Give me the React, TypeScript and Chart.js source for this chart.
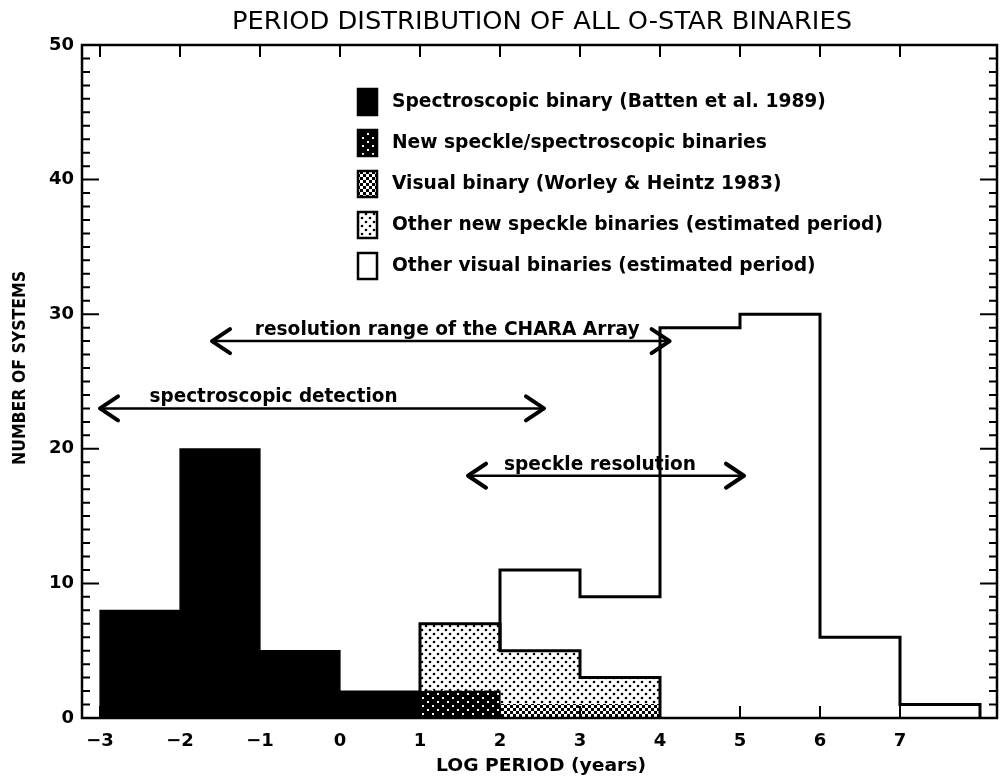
import React, { useEffect, useRef } from 'react';
import { Chart, registerables } from 'chart.js';

Chart.register(...registerables);

// ---- data ----
const binStarts = [-3, -2, -1, 0, 1, 2, 3, 4, 5, 6, 7];
const spectroscopic = [8, 20, 5, 2, 0, 0, 0, 0, 0, 0, 0];
const newSpeckleSpectro = [0, 0, 0, 0, 2, 0, 0, 0, 0, 0, 0];
const visualBinary = [0, 0, 0, 0, 0, 1, 1, 0, 0, 0, 0];
const otherNewSpeckle = [0, 0, 0, 0, 5, 4, 2, 0, 0, 0, 0];
const otherVisual = [0, 0, 0, 0, 0, 6, 6, 29, 30, 6, 1];

const seriesLabels = [
  'Spectroscopic binary (Batten et al. 1989)',
  'New speckle/spectroscopic binaries',
  'Visual binary (Worley & Heintz 1983)',
  'Other new speckle binaries (estimated period)',
  'Other visual binaries (estimated period)',
];

const xTicks = [-3, -2, -1, 0, 1, 2, 3, 4, 5, 6, 7];
const yTicks = [0, 10, 20, 30, 40, 50];

const chartTitle = 'PERIOD DISTRIBUTION OF ALL O-STAR BINARIES';
const xTitle = 'LOG PERIOD (years)';
const yTitle = 'NUMBER OF SYSTEMS';

const arrowLabels = ['resolution range of the CHARA Array', 'spectroscopic detection', 'speckle resolution'];
const arrowFrom = [-1.6, -3.0, 1.6];
const arrowTo = [4.12, 2.55, 5.05];
const arrowY = [28, 23, 18];
const arrowTextX = [1.34, -0.83, 3.25];

// ---- helpers ----
const FONT = '"DejaVu Sans", "Liberation Sans", sans-serif';
const binWidth = 1;

function makePattern(kind: string): CanvasPattern | string {
  const c = document.createElement('canvas');
  const g = c.getContext('2d');
  if (!g) return '#000';
  if (kind === 'sparse') {
    c.width = 10; c.height = 8;
    g.fillStyle = '#000'; g.fillRect(0, 0, 10, 8);
    g.fillStyle = '#fff';
    g.fillRect(2, 1, 2, 2);
    g.fillRect(7, 5, 2, 2);
  } else if (kind === 'checker') {
    c.width = 6; c.height = 6;
    g.fillStyle = '#000'; g.fillRect(0, 0, 6, 6);
    g.fillStyle = '#fff';
    g.fillRect(0, 0, 3, 3);
    g.fillRect(3, 3, 3, 3);
  } else if (kind === 'dots') {
    c.width = 8; c.height = 8;
    g.fillStyle = '#fff'; g.fillRect(0, 0, 8, 8);
    g.fillStyle = '#000';
    g.beginPath(); g.arc(2, 2, 1.3, 0, Math.PI * 2); g.fill();
    g.beginPath(); g.arc(6, 6, 1.3, 0, Math.PI * 2); g.fill();
  } else {
    return kind;
  }
  const p = g.createPattern(c, 'repeat');
  return p || '#000';
}

// stacked floating bars for series index k
function floatingBars(all: number[][], k: number) {
  const out: { x: number; y: [number, number] }[] = [];
  for (let i = 0; i < binStarts.length; i++) {
    const v = all[k][i];
    if (!v) continue;
    let base = 0;
    for (let j = 0; j < k; j++) base += all[j][i];
    out.push({ x: binStarts[i] + binWidth / 2, y: [base, base + v] });
  }
  return out;
}

// step outline of series k (top of cumulative stack)
function stepOutline(all: number[][], k: number) {
  const pts: { x: number; y: number }[] = [];
  const idx = binStarts.map((_, i) => i).filter((i) => all[k][i] > 0);
  if (!idx.length) return pts;
  const cum = (i: number, upto: number) => {
    let s = 0;
    for (let j = 0; j <= upto; j++) s += all[j][i];
    return s;
  };
  const first = idx[0];
  pts.push({ x: binStarts[first], y: cum(first, k - 1) });
  for (const i of idx) {
    const top = cum(i, k);
    pts.push({ x: binStarts[i], y: top });
    pts.push({ x: binStarts[i] + binWidth, y: top });
  }
  const last = idx[idx.length - 1];
  pts.push({ x: binStarts[last] + binWidth, y: 0 });
  return pts;
}

function fitText(ctx: CanvasRenderingContext2D, text: string, x: number, y: number, sx: number) {
  ctx.save();
  ctx.translate(x, y);
  ctx.scale(sx, 1);
  ctx.fillText(text, 0, 0);
  ctx.restore();
}

const fmt = (v: number) => (v < 0 ? '\u2212' + Math.abs(v) : String(v));

export default function App() {
  const ref = useRef<HTMLCanvasElement | null>(null);

  useEffect(() => {
    const canvas = ref.current;
    if (!canvas) return;
    const all = [spectroscopic, newSpeckleSpectro, visualBinary, otherNewSpeckle, otherVisual];
    const fills = [
      '#000000',
      makePattern('sparse'),
      makePattern('checker'),
      makePattern('dots'),
      '#ffffff',
    ];

    const barSets = all.map((_, k) => ({
      type: 'bar' as const,
      label: seriesLabels[k],
      data: floatingBars(all, k),
      backgroundColor: fills[k],
      borderWidth: 0,
      grouped: false,
      barPercentage: 1,
      categoryPercentage: 1,
      inflateAmount: 0.6,
      order: 2,
    }));

    const outlineSets = [3, 4].map((k) => ({
      type: 'line' as const,
      label: seriesLabels[k] + ' outline',
      data: stepOutline(all, k),
      borderColor: '#000',
      borderWidth: 3,
      pointRadius: 0,
      fill: false,
      tension: 0,
      borderJoinStyle: 'miter' as const,
      order: 0,
    }));

    const decor = {
      id: 'decor',
      afterDraw(chart: any) {
        const ctx: CanvasRenderingContext2D = chart.ctx;
        const { left, right, top, bottom } = chart.chartArea;
        const xs = chart.scales.x;
        const ys = chart.scales.y;
        ctx.save();
        ctx.strokeStyle = '#000';
        ctx.fillStyle = '#000';

        // frame
        ctx.lineWidth = 2.5;
        ctx.strokeRect(left, top, right - left, bottom - top);

        // x ticks (inward, bottom and top)
        ctx.lineWidth = 2;
        for (const v of xTicks) {
          const px = xs.getPixelForValue(v);
          ctx.beginPath();
          ctx.moveTo(px, bottom); ctx.lineTo(px, bottom - 12);
          ctx.moveTo(px, top); ctx.lineTo(px, top + 12);
          ctx.stroke();
        }
        // y ticks (major + minor), left and right
        for (let v = yTicks[0]; v <= yTicks[yTicks.length - 1]; v += 1) {
          const py = ys.getPixelForValue(v);
          const major = yTicks.includes(v);
          const len = major ? 17 : 8;
          ctx.beginPath();
          ctx.moveTo(left, py); ctx.lineTo(left + len, py);
          ctx.moveTo(right, py); ctx.lineTo(right - len, py);
          ctx.stroke();
        }

        // title
        ctx.textAlign = 'center';
        ctx.textBaseline = 'middle';
        ctx.font = `24px ${FONT}`;
        let w = ctx.measureText(chartTitle).width;
        fitText(ctx, chartTitle, 542, 23, 620 / w);

        // axis titles
        ctx.font = `bold 17px ${FONT}`;
        w = ctx.measureText(xTitle).width;
        fitText(ctx, xTitle, 541, 767, 210 / w);
        ctx.save();
        ctx.translate(21, 368);
        ctx.rotate(-Math.PI / 2);
        ctx.font = `bold 17px ${FONT}`;
        w = ctx.measureText(yTitle).width;
        fitText(ctx, yTitle, 0, 0, 194 / w);
        ctx.restore();

        // legend
        ctx.font = `bold 20px ${FONT}`;
        const refW = ctx.measureText(seriesLabels[3]).width;
        const lsx = 491 / refW;
        const rowsY = [102, 143, 184, 225, 266];
        seriesLabels.forEach((lab, k) => {
          const cy = rowsY[k];
          ctx.fillStyle = fills[k] as any;
          ctx.fillRect(358, cy - 13, 19, 26);
          ctx.lineWidth = 2.5;
          ctx.strokeStyle = '#000';
          ctx.strokeRect(358, cy - 13, 19, 26);
          ctx.fillStyle = '#000';
          ctx.textAlign = 'left';
          ctx.textBaseline = 'middle';
          fitText(ctx, lab, 392, cy, lsx);
        });

        // arrows with labels
        const arrowTextW = [385, 248, 192];
        arrowLabels.forEach((lab, i) => {
          const x1 = xs.getPixelForValue(arrowFrom[i]);
          const x2 = xs.getPixelForValue(arrowTo[i]);
          const py = ys.getPixelForValue(arrowY[i]);
          ctx.lineWidth = 2.5;
          ctx.lineCap = 'round';
          ctx.lineJoin = 'round';
          ctx.beginPath();
          ctx.moveTo(x1, py); ctx.lineTo(x2, py);
          ctx.stroke();
          ctx.lineWidth = 4;
          ctx.beginPath();
          ctx.moveTo(x1 + 18, py - 12); ctx.lineTo(x1, py); ctx.lineTo(x1 + 18, py + 12);
          ctx.moveTo(x2 - 18, py - 12); ctx.lineTo(x2, py); ctx.lineTo(x2 - 18, py + 12);
          ctx.stroke();
          ctx.font = `bold 19px ${FONT}`;
          ctx.textAlign = 'center';
          ctx.textBaseline = 'alphabetic';
          const tw = ctx.measureText(lab).width;
          fitText(ctx, lab, xs.getPixelForValue(arrowTextX[i]), py - 6, arrowTextW[i] / tw);
        });

        ctx.restore();
      },
    };

    const chart = new Chart(canvas, {
      type: 'bar',
      data: { datasets: [...outlineSets, ...barSets] as any },
      options: {
        responsive: false,
        animation: false,
        layout: { padding: { left: 0, right: 4, top: 45, bottom: 0 } },
        plugins: {
          legend: { display: false },
          tooltip: { enabled: false },
          title: { display: false },
        },
        scales: {
          x: {
            type: 'linear',
            min: -3.225,
            max: 8.2125,
            offset: false,
            grid: { display: false, drawTicks: false },
            border: { display: false },
            afterBuildTicks: (s: any) => {
              s.ticks = xTicks.map((v) => ({ value: v }));
            },
            afterFit: (s: any) => {
              s.height = 62;
            },
            ticks: {
              padding: 13,
              autoSkip: false,
              maxRotation: 0,
              color: '#000',
              font: { family: FONT, size: 18, weight: 'bold' },
              callback: (v: any) => fmt(Number(v)),
            },
          },
          y: {
            type: 'linear',
            min: 0,
            max: 50,
            grid: { display: false, drawTicks: false },
            border: { display: false },
            afterBuildTicks: (s: any) => {
              s.ticks = yTicks.map((v) => ({ value: v }));
            },
            afterFit: (s: any) => {
              s.width = 82;
            },
            ticks: {
              padding: 8,
              color: '#000',
              font: { family: FONT, size: 18, weight: 'bold' },
              callback: (v: any) => fmt(Number(v)),
            },
          },
        },
      } as any,
      plugins: [decor],
    });

    return () => chart.destroy();
  }, []);

  return (
    <div style={{ position: 'absolute', left: 0, top: 0, width: 1001, height: 780, background: '#fff' }}>
      <canvas ref={ref} width={1001} height={780} style={{ display: 'block', width: 1001, height: 780 }} />
    </div>
  );
}
